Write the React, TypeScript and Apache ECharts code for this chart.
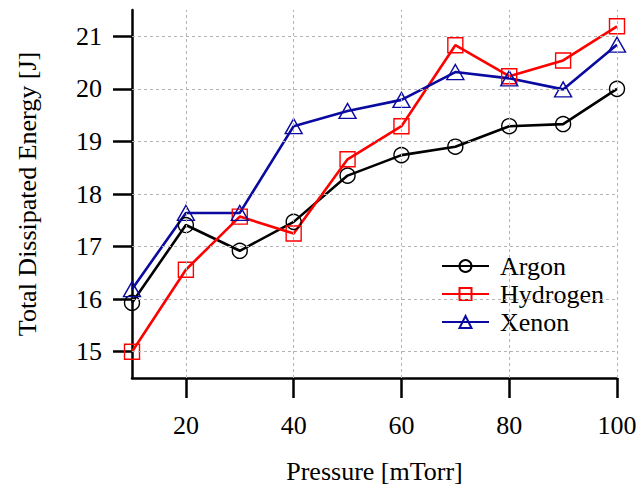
import React, { useEffect, useRef } from "react";
import * as echarts from "echarts";

const pressure = [10, 20, 30, 40, 50, 60, 70, 80, 90, 100];
const argon = [15.93, 17.41, 16.92, 17.47, 18.35, 18.74, 18.9, 19.29, 19.33, 20.0];
const hydrogen = [15.0, 16.56, 17.57, 17.25, 18.66, 19.29, 20.83, 20.24, 20.54, 21.19];
const xenon = [16.19, 17.64, 17.64, 19.29, 19.58, 19.79, 20.32, 20.2, 19.99, 20.84];
const xTicks = [20, 40, 60, 80, 100];
const yTicks = [15, 16, 17, 18, 19, 20, 21];

const FONT = "Liberation Serif";

export default function App() {
  const ref = useRef<HTMLDivElement>(null);
  useEffect(() => {
    document.body.style.margin = "0";
    const chart = echarts.init(ref.current!, null, { renderer: "svg" });
    const pair = (ys: number[]) => pressure.map((x, i) => [x, ys[i]]);
    const mk = (name: string, ys: number[], color: string, symbol: string, size: any) => ({
      name,
      type: "line",
      data: pair(ys),
      symbol,
      symbolSize: size,
      showSymbol: true,
      z: 3,
      lineStyle: { color, width: 2.6 },
      itemStyle: { color: "rgba(0,0,0,0)", borderColor: color, borderWidth: 1.4 },
      emphasis: { disabled: true },
    });
    chart.setOption({
      animation: false,
      backgroundColor: "#fff",
      grid: { left: 132, right: 25, top: 10, bottom: 110 },
      legend: {
        orient: "vertical",
        left: 436,
        top: 248,
        padding: 5,
        backgroundColor: "#fff",
        itemWidth: 47,
        itemHeight: 15,
        itemGap: 2,
        data: ["Argon", "Hydrogen", "Xenon"],
        textStyle: { fontFamily: FONT, fontSize: 26, color: "#000", padding: [0, 0, 0, 6] },
      },
      xAxis: {
        type: "value",
        min: 10,
        max: 100,
        name: "Pressure [mTorr]",
        nameLocation: "middle",
        nameGap: 80,
        nameTextStyle: { fontFamily: FONT, fontSize: 26, color: "#000" },
        axisLine: { lineStyle: { color: "#000", width: 2.5 } },
        axisTick: { customValues: xTicks, length: 20, lineStyle: { color: "#000", width: 2.5 } },
        axisLabel: { customValues: xTicks, margin: 34, fontFamily: FONT, fontSize: 26, color: "#000" },
        splitLine: { show: false },
      },
      yAxis: {
        type: "value",
        min: 14.5,
        max: 21.5,
        name: "Total Dissipated Energy [J]",
        nameLocation: "middle",
        nameRotate: 90,
        nameGap: 92,
        nameTextStyle: { fontFamily: FONT, fontSize: 26, color: "#000" },
        axisLine: { show: true, lineStyle: { color: "#000", width: 2.5 } },
        axisTick: { show: true, customValues: yTicks, length: 19, lineStyle: { color: "#000", width: 2.5 } },
        axisLabel: { customValues: yTicks, margin: 30, fontFamily: FONT, fontSize: 26, color: "#000" },
        splitLine: { show: false },
      },
      series: [
        {
          name: "grid",
          type: "line",
          data: [],
          z: 1,
          silent: true,
          markLine: {
            silent: true,
            symbol: "none",
            label: { show: false },
            lineStyle: { color: "#b4b4b4", type: [3, 3], width: 1 },
            emphasis: { disabled: true },
            data: [
              ...xTicks.map((v) => ({ xAxis: v })),
              ...yTicks.map((v) => ({ yAxis: v })),
            ],
          },
        },
        mk("Argon", argon, "#000000", "circle", 15),
        mk("Hydrogen", hydrogen, "#ff0000", "rect", 15),
        mk("Xenon", xenon, "#0a0aa0", "triangle", [17, 15]),
      ],
    });
    return () => chart.dispose();
  }, []);
  return (
    <div
      ref={ref}
      style={{ position: "absolute", left: 0, top: 0, width: 642, height: 489 }}
    />
  );
}
